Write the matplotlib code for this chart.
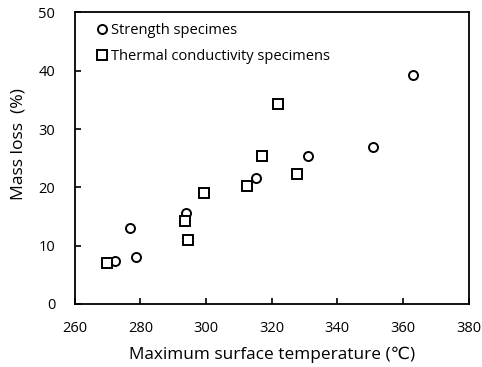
import matplotlib
matplotlib.use("Agg")
import matplotlib.pyplot as plt

plt.rcParams['font.family'] = ['Open Sans', 'DejaVu Sans']

# Strength specimens
strength_temp = [272.3, 276.7, 278.7, 293.9, 315.1, 331.1, 351.0, 363.0]
strength_loss = [7.4, 13.0, 8.1, 15.6, 21.6, 25.3, 27.0, 39.3]

# Thermal conductivity specimens
thermal_temp = [269.8, 293.6, 294.5, 299.4, 312.5, 317.2, 321.9, 327.7]
thermal_loss = [7.0, 14.3, 11.0, 19.1, 20.2, 25.3, 34.3, 22.3]

fig = plt.figure(figsize=(4.82, 3.67), dpi=100)
ax = fig.add_axes([0.155, 0.172, 0.817, 0.794])

ax.plot(strength_temp, strength_loss, linestyle='none', marker='o', markersize=6.5,
        markerfacecolor='white', markeredgecolor='black', markeredgewidth=1.4,
        label='Strength specimes')
ax.plot(thermal_temp, thermal_loss, linestyle='none', marker='s', markersize=6.5,
        markerfacecolor='white', markeredgecolor='black', markeredgewidth=1.4,
        label='Thermal conductivity specimens')

ax.set_xlim(260, 380)
ax.set_ylim(0, 50)
ax.set_xticks(range(260, 381, 20))
ax.set_yticks(range(0, 51, 10))
ax.tick_params(direction='in', length=4, width=1.2, labelsize=10.5)
ax.tick_params(axis='x', pad=12.5)
ax.tick_params(axis='y', pad=14)
for s in ax.spines.values():
    s.set_linewidth(1.3)

ax.set_xlabel('Maximum surface temperature (℃)', fontsize=12.4)
ax.set_ylabel('Mass loss  (%)', fontsize=12.6)
ax.xaxis.set_label_coords(0.5, -0.175, transform=ax.transAxes)
ax.yaxis.set_label_coords(-0.144, 0.547, transform=ax.transAxes)
ax.xaxis.label.set_va('center')
ax.yaxis.label.set_va('center')

ax.legend(loc='upper left', bbox_to_anchor=(0.025, 1.0), frameon=False,
          fontsize=10.5, handletextpad=0.1, handlelength=1.0,
          borderaxespad=0.3, labelspacing=0.75)

fig.savefig('out.png', dpi=100)
